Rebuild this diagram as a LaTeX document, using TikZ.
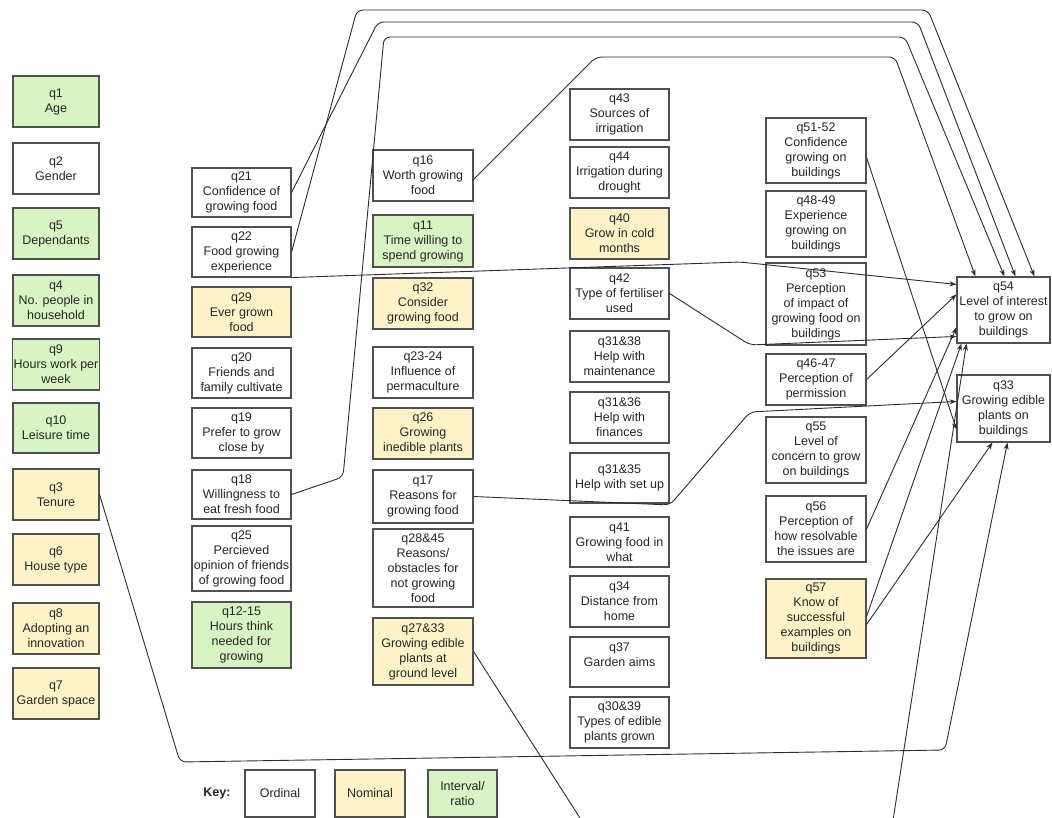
\documentclass[tikz,border=0pt]{standalone}
\usepackage{fontspec}
\setmainfont{Liberation Sans}
\usetikzlibrary{arrows.meta}

\definecolor{nomfill}{RGB}{253,243,198}
\definecolor{intfill}{RGB}{216,244,194}
\definecolor{edge}{RGB}{80,80,80}
\definecolor{wire}{RGB}{45,45,45}

\tikzset{
  qbox/.style={draw=edge, line width=1.1pt, fill=white, align=center, inner sep=1pt,
    font=\fontsize{12.5}{15}\selectfont, text=black!85},
  ordbox/.style={qbox},
  nombox/.style={qbox, fill=nomfill},
  intbox/.style={qbox, fill=intfill},
  link/.style={draw=wire, line width=0.9pt, rounded corners=6pt,
    -{Stealth[length=7pt,width=5pt]}},
}

% \askbox{style}{name}{left}{top}{right}{bottom}{text}
\newcommand{\askbox}[7]{%
  \node[#1, minimum width={(#5-#3)*1pt}, minimum height={(#6-#4)*1pt}]
    (#2) at ({(#3+#5)/2},{(#4+#6)/2}) {#7};}

\begin{document}
\begin{tikzpicture}[x=1pt,y=-1pt]
\clip (0,0) rectangle (1052,818);
\fill[white] (0,0) rectangle (1052,818);

% socio-demographic column
\askbox{intbox}{q1}{13}{76}{99}{127}{q1\\Age}
\askbox{ordbox}{q2}{13}{143}{99}{194}{q2\\Gender}
\askbox{intbox}{q5}{13}{208}{99}{259}{q5\\Dependants}
\askbox{intbox}{q4}{13}{275}{99}{326}{q4\\No. people in\\household}
\askbox{intbox}{q9}{13}{339}{99}{390}{q9\\Hours work per\\week}
\askbox{intbox}{q10}{13}{403}{99}{453}{q10\\Leisure time}
\askbox{nombox}{q3}{13}{469}{99}{520}{q3\\Tenure}
\askbox{nombox}{q6}{13}{534}{99}{585}{q6\\House type}
\askbox{nombox}{q8}{13}{603}{99}{654}{q8\\Adopting an\\innovation}
\askbox{nombox}{q7}{13}{668}{99}{719}{q7\\Garden space}

% second column
\askbox{ordbox}{q21}{192}{168}{291}{217}{q21\\Confidence of\\growing food}
\askbox{ordbox}{q22}{192}{227}{291}{277}{q22\\Food growing\\experience}
\askbox{nombox}{q29}{192}{287}{291}{337}{q29\\Ever grown\\food}
\askbox{ordbox}{q20}{192}{348}{291}{398}{q20\\Friends and\\family cultivate}
\askbox{ordbox}{q19}{192}{408}{291}{458}{q19\\Prefer to grow\\close by}
\askbox{ordbox}{q18}{192}{470}{291}{519}{q18\\Willingness to\\eat fresh food}
\askbox{ordbox}{q25}{192}{526}{291}{591}{q25\\Percieved\\opinion of friends\\of growing food}
\askbox{intbox}{q1215}{192}{602}{291}{668}{q12-15\\Hours think\\needed for\\growing}

% third column
\askbox{ordbox}{q16}{373}{150}{473}{201}{q16\\Worth growing\\food}
\askbox{intbox}{q11}{373}{215}{473}{267}{q11\\Time willing to\\spend growing}
\askbox{nombox}{q32}{373}{278}{473}{329}{q32\\Consider\\growing food}
\askbox{ordbox}{q2324}{373}{347}{473}{398}{q23-24\\Influence of\\permaculture}
\askbox{nombox}{q26}{373}{408}{473}{459}{q26\\Growing\\inedible plants}
\askbox{ordbox}{q17}{373}{470}{473}{523}{q17\\Reasons for\\growing food}
\askbox{ordbox}{q2845}{373}{529}{473}{607}{q28\&45\\Reasons/\\obstacles for\\not growing\\food}
\askbox{nombox}{q2733}{373}{618}{473}{685}{q27\&33\\Growing edible\\plants at\\ground level}

% fourth column
\askbox{ordbox}{q43}{570}{89}{669}{140}{q43\\Sources of\\irrigation}
\askbox{ordbox}{q44}{570}{147}{669}{198}{q44\\Irrigation during\\drought}
\askbox{nombox}{q40}{570}{208}{669}{259}{q40\\Grow in cold\\months}
\askbox{ordbox}{q42}{570}{268}{669}{319}{q42\\Type of fertiliser\\used}
\askbox{ordbox}{q3138}{570}{331}{669}{382}{q31\&38\\Help with\\maintenance}
\askbox{ordbox}{q3136}{570}{392}{669}{443}{q31\&36\\Help with\\finances}
\askbox{ordbox}{q3135}{570}{453}{669}{503}{q31\&35\\Help with set up}
\askbox{ordbox}{q41}{570}{517}{669}{567}{q41\\Growing food in\\what}
\askbox{ordbox}{q34}{570}{576}{669}{627}{q34\\Distance from\\home}
\askbox{ordbox}{q37}{570}{637}{669}{687}{q37\\Garden aims\\\mbox{}}
\askbox{ordbox}{q3039}{570}{697}{669}{748}{q30\&39\\Types of edible\\plants grown}

% fifth column
\askbox{ordbox}{q5152}{766}{118}{866}{183}{q51-52\\Confidence\\growing on\\buildings}
\askbox{ordbox}{q4849}{766}{191}{866}{257}{q48-49\\Experience\\growing on\\buildings}
\askbox{ordbox}{q53}{766}{263}{866}{345}{q53\\Perception\\of impact of\\growing food on\\buildings}
\askbox{ordbox}{q4647}{766}{354}{866}{405}{q46-47\\Perception of\\permission}
\askbox{ordbox}{q55}{766}{417}{866}{483}{q55\\Level of\\concern to grow\\on buildings}
\askbox{ordbox}{q56}{766}{496}{866}{562}{q56\\Perception of\\how resolvable\\the issues are}
\askbox{nombox}{q57}{766}{579}{866}{658}{q57\\Know of\\successful\\examples on\\buildings}

% outcome variables
\askbox{ordbox}{q54}{957}{277}{1050}{343}{q54\\Level of interest\\to grow on\\buildings}
\askbox{ordbox}{q33}{957}{375}{1050}{442}{q33\\Growing edible\\plants on\\buildings}

% key
\node[font=\fontsize{12.5}{15}\selectfont\bfseries, text=black!85] (keylabel) at (217,793) {Key:};
\askbox{ordbox}{keyord}{245}{770}{315}{817}{Ordinal}
\askbox{nombox}{keynom}{335}{770}{405}{817}{Nominal}
\askbox{intbox}{keyint}{428}{770}{497}{817}{Interval/\\ratio}

% bend points of the connectors
\coordinate (a1) at (357,10);  \coordinate (a2) at (928,10);
\coordinate (b1) at (378,22);  \coordinate (b2) at (918,22);
\coordinate (c1) at (343,477); \coordinate (c2) at (384,37); \coordinate (c3) at (905,37);
\coordinate (d1) at (596,57);  \coordinate (d2) at (895,57);
\coordinate (e1) at (740,262);
\coordinate (f1) at (670,505); \coordinate (f2) at (750,412);
\coordinate (g1) at (750,345);
\coordinate (h1) at (180,762); \coordinate (h2) at (945,750);
\coordinate (i1) at (594,840); \coordinate (i2) at (890,840);

% connectors into q54 from above
\draw[link] (q22.east) -- (a1) -- (a2) -- ([xshift=78pt]q54.north west);
\draw[link] (q21.east) -- (b1) -- (b2) -- ([xshift=59pt]q54.north west);
\draw[link] (q18.east) -- (c1) -- (c2) -- (c3) -- ([xshift=48pt]q54.north west);
\draw[link] ([yshift=-4pt]q16.east) -- (d1) -- (d2) -- ([xshift=19pt]q54.north west);

% connectors into q54 from the left and below
\draw[link] (q22.south east) -- (e1) -- ([yshift=-8pt]q54.north west);
\draw[link] (q4647.east) -- ([yshift=-18pt]q54.north west);
\draw[link] (q56.east) -- ([yshift=-51pt]q54.north west);
\draw[link] (q42.east) -- (g1) -- ([yshift=-60pt]q54.north west);
\draw[link] ([yshift=2pt]q57.east) -- ([xshift=5pt]q54.south west);
\draw[link] (q2733.east) -- (i1) -- (i2) -- ([xshift=10pt]q54.south west);

% connectors into q33
\draw[link] (q17.east) -- (f1) -- (f2) -- ([yshift=-27pt]q33.north west);
\draw[link] ([yshift=-7pt]q5152.east) -- ([yshift=-55pt]q33.north west);
\draw[link] ([yshift=-6pt]q57.east) -- ([xshift=36pt]q33.south west);
\draw[link] (q3.east) -- (h1) -- (h2) -- ([xshift=51pt]q33.south west);
\end{tikzpicture}
\end{document}
